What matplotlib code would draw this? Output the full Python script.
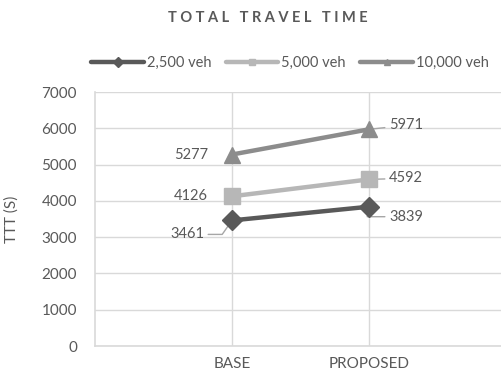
import matplotlib.pyplot as plt

plt.rcParams['font.family'] = ['Lato', 'DejaVu Sans']

# scenario positions on the category axis (0 and 3 are empty padding slots)
scenarios = ["BASE", "PROPOSED"]
scenario_pos = [1, 2]

demand_labels = ["2,500 veh", "5,000 veh", "10,000 veh"]
ttt_2500 = [3461, 3839]
ttt_5000 = [4126, 4592]
ttt_10000 = [5277, 5971]

series = [ttt_2500, ttt_5000, ttt_10000]
colors = ["#595959", "#b7b7b7", "#8c8c8c"]
markers = ["D", "s", "^"]
msizes = [10, 12, 12]

# label offsets (pixels) and leader-line style (None = no leader)
label_offsets = [[(-45, -14, "angle,angleA=0,angleB=55,rad=0"), (37, -10, "angle,angleA=0,angleB=80,rad=0")],
                 [(-41, 0, None), (37, 1, "arc3")],
                 [(-41, 0, None), (37, 4, "arc3")]]

text_col = "#595959"
grid_col = "#d9d9d9"

fig = plt.figure(figsize=(5.02, 3.80), dpi=100)
ax = fig.add_axes([95 / 502, 1 - 346 / 380, 411 / 502, (346 - 92) / 380])

for vals, lab, c, m, ms, offs in zip(series, demand_labels, colors, markers, msizes, label_offsets):
    ax.plot(scenario_pos, vals, color=c, lw=3.2, marker=m, markersize=ms,
            label=lab, zorder=3, solid_capstyle='round')
    for x, v, (dx, dy, conn) in zip(scenario_pos, vals, offs):
        arrow = None
        if conn is not None:
            arrow = dict(arrowstyle='-', color="#a6a6a6", lw=1, shrinkA=1, shrinkB=0,
                         connectionstyle=conn)
        ax.annotate(str(v), (x, v), xytext=(dx, dy), textcoords='offset pixels',
                    ha='center', va='center', fontsize=10.5, color=text_col,
                    arrowprops=arrow, zorder=2)

ax.set_xlim(0, 3)
ax.set_ylim(0, 7000)
ax.set_yticks(range(0, 7001, 1000))
ax.set_xticks(scenario_pos)
ax.set_xticklabels(scenarios)
ax.tick_params(axis='y', length=0, pad=13, labelsize=11, labelcolor=text_col)
ax.tick_params(axis='x', length=0, pad=8, labelsize=11, labelcolor=text_col)
ax.grid(True, color=grid_col, lw=1, zorder=0)
ax.set_axisbelow(True)
for s in ['top', 'right']:
    ax.spines[s].set_visible(False)
for s in ['left', 'bottom']:
    ax.spines[s].set_color(grid_col)
    ax.spines[s].set_linewidth(1.2)
ax.set_ylabel("TTT (S)", fontsize=11, color=text_col)
ax.yaxis.set_label_coords((19 - 95) / 411, 0.5)

fig.text(268 / 502, 1 - 18 / 380, "T O T A L   T R A V E L   T I M E", ha='center', va='center',
         fontsize=10.5, fontweight='bold', color=text_col)

leg = fig.legend(loc='center', bbox_to_anchor=(290 / 502, 1 - 63 / 380), ncol=3,
                 frameon=False, fontsize=10.5, handlelength=3.6, columnspacing=1.0,
                 handletextpad=0.2, labelcolor=text_col)
for ln in leg.get_lines():
    ln.set_markersize(5)

fig.savefig("out.png", dpi=100)
